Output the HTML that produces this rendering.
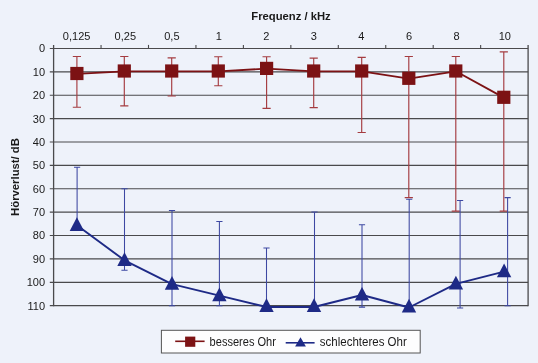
<!DOCTYPE html>
<html lang="de"><head><meta charset="utf-8"><title>Audiogramm</title>
<style>html,body{margin:0;padding:0;background:#eef2fa;}svg{display:block}</style></head>
<body>
<svg width="538" height="363" viewBox="0 0 538 363">
<rect width="538" height="363" fill="#eef2fa"/>
<line x1="49.80" x2="528.10" y1="48.50" y2="48.50" stroke="#4a4a4c" stroke-width="1.15"/>
<line x1="49.80" x2="528.10" y1="71.88" y2="71.88" stroke="#4a4a4c" stroke-width="1.15"/>
<line x1="49.80" x2="528.10" y1="95.26" y2="95.26" stroke="#4a4a4c" stroke-width="1.15"/>
<line x1="49.80" x2="528.10" y1="118.64" y2="118.64" stroke="#4a4a4c" stroke-width="1.15"/>
<line x1="49.80" x2="528.10" y1="142.02" y2="142.02" stroke="#4a4a4c" stroke-width="1.15"/>
<line x1="49.80" x2="528.10" y1="165.40" y2="165.40" stroke="#4a4a4c" stroke-width="1.15"/>
<line x1="49.80" x2="528.10" y1="188.78" y2="188.78" stroke="#4a4a4c" stroke-width="1.15"/>
<line x1="49.80" x2="528.10" y1="212.16" y2="212.16" stroke="#4a4a4c" stroke-width="1.15"/>
<line x1="49.80" x2="528.10" y1="235.54" y2="235.54" stroke="#4a4a4c" stroke-width="1.15"/>
<line x1="49.80" x2="528.10" y1="258.92" y2="258.92" stroke="#4a4a4c" stroke-width="1.15"/>
<line x1="49.80" x2="528.10" y1="282.30" y2="282.30" stroke="#4a4a4c" stroke-width="1.15"/>
<line x1="49.80" x2="528.10" y1="305.68" y2="305.68" stroke="#4a4a4c" stroke-width="1.15"/>
<line x1="53.60" x2="53.60" y1="44.90" y2="306.18" stroke="#4a4a4c" stroke-width="1.3"/>
<line x1="528.10" x2="528.10" y1="44.90" y2="306.18" stroke="#4a4a4c" stroke-width="1.3"/>
<line x1="101.05" x2="101.05" y1="44.90" y2="48.50" stroke="#4a4a4c" stroke-width="1.1"/>
<line x1="148.50" x2="148.50" y1="44.90" y2="48.50" stroke="#4a4a4c" stroke-width="1.1"/>
<line x1="195.95" x2="195.95" y1="44.90" y2="48.50" stroke="#4a4a4c" stroke-width="1.1"/>
<line x1="243.40" x2="243.40" y1="44.90" y2="48.50" stroke="#4a4a4c" stroke-width="1.1"/>
<line x1="290.85" x2="290.85" y1="44.90" y2="48.50" stroke="#4a4a4c" stroke-width="1.1"/>
<line x1="338.30" x2="338.30" y1="44.90" y2="48.50" stroke="#4a4a4c" stroke-width="1.1"/>
<line x1="385.75" x2="385.75" y1="44.90" y2="48.50" stroke="#4a4a4c" stroke-width="1.1"/>
<line x1="433.20" x2="433.20" y1="44.90" y2="48.50" stroke="#4a4a4c" stroke-width="1.1"/>
<line x1="480.65" x2="480.65" y1="44.90" y2="48.50" stroke="#4a4a4c" stroke-width="1.1"/>
<path d="M76.90 56.50V107.20M72.80 56.50h8.2M72.80 107.20h8.2" stroke="#a53c40" stroke-width="1.15" fill="none"/>
<path d="M124.30 56.50V105.80M120.20 56.50h8.2M120.20 105.80h8.2" stroke="#a53c40" stroke-width="1.15" fill="none"/>
<path d="M171.70 57.90V96.00M167.60 57.90h8.2M167.60 96.00h8.2" stroke="#a53c40" stroke-width="1.15" fill="none"/>
<path d="M218.30 56.70V85.70M214.20 56.70h8.2M214.20 85.70h8.2" stroke="#a53c40" stroke-width="1.15" fill="none"/>
<path d="M266.60 56.70V108.30M262.50 56.70h8.2M262.50 108.30h8.2" stroke="#a53c40" stroke-width="1.15" fill="none"/>
<path d="M313.70 58.10V107.60M309.60 58.10h8.2M309.60 107.60h8.2" stroke="#a53c40" stroke-width="1.15" fill="none"/>
<path d="M361.70 57.40V132.50M357.60 57.40h8.2M357.60 132.50h8.2" stroke="#a53c40" stroke-width="1.15" fill="none"/>
<path d="M408.80 56.50V197.60M404.70 56.50h8.2M404.70 197.60h8.2" stroke="#a53c40" stroke-width="1.15" fill="none"/>
<path d="M455.80 56.50V211.10M451.70 56.50h8.2M451.70 211.10h8.2" stroke="#a53c40" stroke-width="1.15" fill="none"/>
<path d="M503.80 51.80V211.10M499.70 51.80h8.2M499.70 211.10h8.2" stroke="#a53c40" stroke-width="1.15" fill="none"/>
<path d="M77.10 167.20V224.00M74.00 167.20h6.2" stroke="#3d48a2" stroke-width="1.05" fill="none"/>
<path d="M124.50 188.80V270.20M121.40 188.80h6.2M121.40 270.20h6.2" stroke="#3d48a2" stroke-width="1.05" fill="none"/>
<path d="M172.00 210.40V305.70M168.90 210.40h6.2M168.90 305.70h6.2" stroke="#3d48a2" stroke-width="1.05" fill="none"/>
<path d="M219.40 221.40V305.70M216.30 221.40h6.2M216.30 305.70h6.2" stroke="#3d48a2" stroke-width="1.05" fill="none"/>
<path d="M266.50 248.00V305.00M263.40 248.00h6.2" stroke="#3d48a2" stroke-width="1.05" fill="none"/>
<path d="M314.50 212.00V305.00M311.40 212.00h6.2" stroke="#3d48a2" stroke-width="1.05" fill="none"/>
<path d="M362.00 224.70V307.10M358.90 224.70h6.2M358.90 307.10h6.2" stroke="#3d48a2" stroke-width="1.05" fill="none"/>
<path d="M409.20 199.20V305.50M406.10 199.20h6.2" stroke="#3d48a2" stroke-width="1.05" fill="none"/>
<path d="M460.10 200.40V308.00M457.00 200.40h6.2M457.00 308.00h6.2" stroke="#3d48a2" stroke-width="1.05" fill="none"/>
<path d="M507.60 197.60V305.70M504.50 197.60h6.2M504.50 305.70h6.2" stroke="#3d48a2" stroke-width="1.05" fill="none"/>
<polyline points="76.90,73.80 124.30,71.30 171.70,71.30 218.30,71.30 266.60,68.70 313.70,71.30 361.70,71.30 408.80,78.60 455.80,71.30 503.80,97.60" fill="none" stroke="#7c1214" stroke-width="1.85" stroke-linejoin="round"/>
<polyline points="76.90,225.30 124.50,260.30 172.00,284.10 219.40,295.60 266.50,307.00 314.00,307.00 362.00,295.00 409.00,307.50 455.90,283.90 504.10,271.60" fill="none" stroke="#1e2a86" stroke-width="1.9" stroke-linejoin="round"/>
<rect x="70.30" y="66.90" width="13.2" height="13.2" fill="#7c1214"/>
<rect x="117.70" y="64.40" width="13.2" height="13.2" fill="#7c1214"/>
<rect x="165.10" y="64.40" width="13.2" height="13.2" fill="#7c1214"/>
<rect x="211.70" y="64.40" width="13.2" height="13.2" fill="#7c1214"/>
<rect x="260.00" y="61.80" width="13.2" height="13.2" fill="#7c1214"/>
<rect x="307.10" y="64.40" width="13.2" height="13.2" fill="#7c1214"/>
<rect x="355.10" y="64.40" width="13.2" height="13.2" fill="#7c1214"/>
<rect x="402.20" y="71.70" width="13.2" height="13.2" fill="#7c1214"/>
<rect x="449.20" y="64.40" width="13.2" height="13.2" fill="#7c1214"/>
<rect x="497.20" y="90.70" width="13.2" height="13.2" fill="#7c1214"/>
<path d="M76.90 217.20L84.10 230.90H69.70Z" fill="#1e2a86"/>
<path d="M124.50 252.20L131.70 265.90H117.30Z" fill="#1e2a86"/>
<path d="M172.00 276.00L179.20 289.70H164.80Z" fill="#1e2a86"/>
<path d="M219.40 287.50L226.60 301.20H212.20Z" fill="#1e2a86"/>
<path d="M266.50 298.20L273.70 311.90H259.30Z" fill="#1e2a86"/>
<path d="M314.00 298.20L321.20 311.90H306.80Z" fill="#1e2a86"/>
<path d="M362.00 286.90L369.20 300.60H354.80Z" fill="#1e2a86"/>
<path d="M409.00 298.70L416.20 312.40H401.80Z" fill="#1e2a86"/>
<path d="M455.90 275.80L463.10 289.50H448.70Z" fill="#1e2a86"/>
<path d="M504.10 263.50L511.30 277.20H496.90Z" fill="#1e2a86"/>
<text x="291" y="19.9" text-anchor="middle" font-family="Liberation Sans, sans-serif" font-size="11.25" font-weight="bold" fill="#1a1a1a">Frequenz / kHz</text>
<text transform="translate(76.60 39.75) scale(0.935 1)" text-anchor="middle" font-family="Liberation Sans, sans-serif" font-size="11.8" fill="#1a1a1a">0,125</text>
<text transform="translate(125.32 39.75) scale(0.935 1)" text-anchor="middle" font-family="Liberation Sans, sans-serif" font-size="11.8" fill="#1a1a1a">0,25</text>
<text transform="translate(171.84 39.75) scale(0.935 1)" text-anchor="middle" font-family="Liberation Sans, sans-serif" font-size="11.8" fill="#1a1a1a">0,5</text>
<text transform="translate(218.86 39.75) scale(0.935 1)" text-anchor="middle" font-family="Liberation Sans, sans-serif" font-size="11.8" fill="#1a1a1a">1</text>
<text transform="translate(266.28 39.75) scale(0.935 1)" text-anchor="middle" font-family="Liberation Sans, sans-serif" font-size="11.8" fill="#1a1a1a">2</text>
<text transform="translate(313.80 39.75) scale(0.935 1)" text-anchor="middle" font-family="Liberation Sans, sans-serif" font-size="11.8" fill="#1a1a1a">3</text>
<text transform="translate(361.32 39.75) scale(0.935 1)" text-anchor="middle" font-family="Liberation Sans, sans-serif" font-size="11.8" fill="#1a1a1a">4</text>
<text transform="translate(409.14 39.75) scale(0.935 1)" text-anchor="middle" font-family="Liberation Sans, sans-serif" font-size="11.8" fill="#1a1a1a">6</text>
<text transform="translate(456.56 39.75) scale(0.935 1)" text-anchor="middle" font-family="Liberation Sans, sans-serif" font-size="11.8" fill="#1a1a1a">8</text>
<text transform="translate(504.78 39.75) scale(0.935 1)" text-anchor="middle" font-family="Liberation Sans, sans-serif" font-size="11.8" fill="#1a1a1a">10</text>
<text transform="translate(45.1 52.40) scale(0.935 1)" text-anchor="end" font-family="Liberation Sans, sans-serif" font-size="11.8" fill="#1a1a1a">0</text>
<text transform="translate(45.1 75.78) scale(0.935 1)" text-anchor="end" font-family="Liberation Sans, sans-serif" font-size="11.8" fill="#1a1a1a">10</text>
<text transform="translate(45.1 99.16) scale(0.935 1)" text-anchor="end" font-family="Liberation Sans, sans-serif" font-size="11.8" fill="#1a1a1a">20</text>
<text transform="translate(45.1 122.54) scale(0.935 1)" text-anchor="end" font-family="Liberation Sans, sans-serif" font-size="11.8" fill="#1a1a1a">30</text>
<text transform="translate(45.1 145.92) scale(0.935 1)" text-anchor="end" font-family="Liberation Sans, sans-serif" font-size="11.8" fill="#1a1a1a">40</text>
<text transform="translate(45.1 169.30) scale(0.935 1)" text-anchor="end" font-family="Liberation Sans, sans-serif" font-size="11.8" fill="#1a1a1a">50</text>
<text transform="translate(45.1 192.68) scale(0.935 1)" text-anchor="end" font-family="Liberation Sans, sans-serif" font-size="11.8" fill="#1a1a1a">60</text>
<text transform="translate(45.1 216.06) scale(0.935 1)" text-anchor="end" font-family="Liberation Sans, sans-serif" font-size="11.8" fill="#1a1a1a">70</text>
<text transform="translate(45.1 239.44) scale(0.935 1)" text-anchor="end" font-family="Liberation Sans, sans-serif" font-size="11.8" fill="#1a1a1a">80</text>
<text transform="translate(45.1 262.82) scale(0.935 1)" text-anchor="end" font-family="Liberation Sans, sans-serif" font-size="11.8" fill="#1a1a1a">90</text>
<text transform="translate(45.1 286.20) scale(0.935 1)" text-anchor="end" font-family="Liberation Sans, sans-serif" font-size="11.8" fill="#1a1a1a">100</text>
<text transform="translate(45.1 309.58) scale(0.935 1)" text-anchor="end" font-family="Liberation Sans, sans-serif" font-size="11.8" fill="#1a1a1a">110</text>
<text transform="translate(19.3 177) rotate(-90)" text-anchor="middle" font-family="Liberation Sans, sans-serif" font-size="11.3" font-weight="bold" fill="#1a1a1a">Hörverlust/ dB</text>
<rect x="161.4" y="330.3" width="258.8" height="22.7" fill="#fdfdfe" stroke="#555" stroke-width="1"/>
<line x1="175.2" x2="204.6" y1="341.3" y2="341.3" stroke="#7c1214" stroke-width="1.6"/>
<rect x="185.1" y="336.6" width="10.2" height="10.2" fill="#7c1214"/>
<text x="209.6" y="345.7" font-family="Liberation Sans, sans-serif" font-size="12" textLength="66.3" lengthAdjust="spacingAndGlyphs" fill="#1a1a1a">besseres Ohr</text>
<line x1="285.7" x2="314.6" y1="342.8" y2="342.8" stroke="#1e2a86" stroke-width="1.6"/>
<path d="M300.5 337.2L305.9 346.5H295.1Z" fill="#1e2a86"/>
<text x="319.8" y="345.7" font-family="Liberation Sans, sans-serif" font-size="12" textLength="87" lengthAdjust="spacingAndGlyphs" fill="#1a1a1a">schlechteres Ohr</text>
</svg>
</body></html>
